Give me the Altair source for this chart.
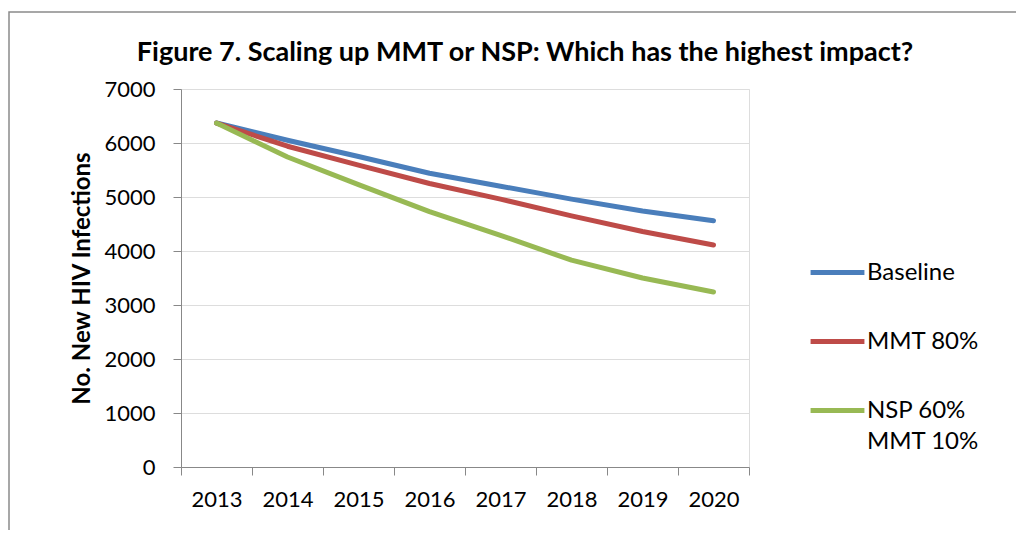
import altair as alt
import pandas as pd

years = ["2013", "2014", "2015", "2016", "2017", "2018", "2019", "2020"]
series = ["Baseline", "MMT 80%", "NSP 60% MMT 10%"]
baseline = [6370, 6050, 5750, 5440, 5200, 4960, 4740, 4560]
mmt80 = [6370, 5940, 5590, 5250, 4960, 4650, 4360, 4110]
nsp60 = [6370, 5740, 5230, 4730, 4290, 3830, 3500, 3240]
colors = ["#4A7EBB", "#BE4B48", "#98B954"]
y_ticks = [0, 1000, 2000, 3000, 4000, 5000, 6000, 7000]

rows = []
for s, vals in zip(series, [baseline, mmt80, nsp60]):
    for yr, v in zip(years, vals):
        rows.append({"year": yr, "series": s, "value": v})
df = pd.DataFrame(rows)

FONT = "Lato"
GRAY = "#868686"

border = alt.Chart(alt.Data(values=[{}])).mark_rect(
    fillOpacity=0, stroke="#8a8a8a", strokeWidth=1.5
).encode(
    x=alt.value(-172), x2=alt.value(1200), y=alt.value(-77), y2=alt.value(700)
)

lines = alt.Chart(df).mark_line(
    strokeWidth=5, strokeCap="round", strokeJoin="round"
).encode(
    x=alt.X(
        "year:O", sort=years, bandPosition=0.5,
        scale=alt.Scale(type="band", paddingInner=0, paddingOuter=0),
        axis=alt.Axis(
            title=None, labelAngle=0, tickBand="extent", tickSize=8,
            labelPadding=14, labelFont=FONT, labelFontSize=22, labelColor="black",
            grid=False,
        ),
    ),
    y=alt.Y(
        "value:Q", scale=alt.Scale(domain=[0, 7000]),
        axis=alt.Axis(
            values=y_ticks, format="d", title="No. New HIV Infections", tickSize=8,
            labelPadding=18, labelFont=FONT, labelFontSize=22, labelColor="black",
            titleFont=FONT, titleFontSize=24, titleFontWeight="bold",
            titleColor="black", titlePadding=9, grid=True,
        ),
    ),
    color=alt.Color(
        "series:N", sort=series,
        scale=alt.Scale(domain=series, range=colors),
        legend=alt.Legend(
            title=None, orient="none", legendX=627, legendY=154,
            symbolType="stroke", symbolSize=2900, symbolStrokeWidth=5,
            labelFont=FONT, labelFontSize=24, labelColor="black",
            labelOffset=0, rowPadding=27, padding=0, labelLimit=300,
            labelExpr="datum.label == 'NSP 60% MMT 10%' ? ['NSP 60%', 'MMT 10%'] : datum.label",
        ),
    ),
    order=alt.Order("year:O"),
)

chart = alt.layer(border, lines).properties(
    width=568,
    height=378,
    padding={"left": 173, "top": 81, "right": 267, "bottom": 63},
    autosize=alt.AutoSizeParams(type="none"),
    title=alt.TitleParams(
        "Figure 7. Scaling up MMT or NSP: Which has the highest impact?",
        font=FONT, fontSize=27, fontWeight="bold", color="black",
        anchor="middle", frame="group", baseline="alphabetic",
        offset=-77, dx=60,
    ),
).configure_view(strokeWidth=0).configure_axis(
    domainColor=GRAY, domainWidth=1.5, tickColor=GRAY, tickWidth=1.5,
    gridColor=GRAY, gridWidth=1.5,
).configure(
    style={"guide-label": {"lineHeight": 31}}
)

chart.save("out.html", embed_options={"renderer": "svg", "actions": False})
